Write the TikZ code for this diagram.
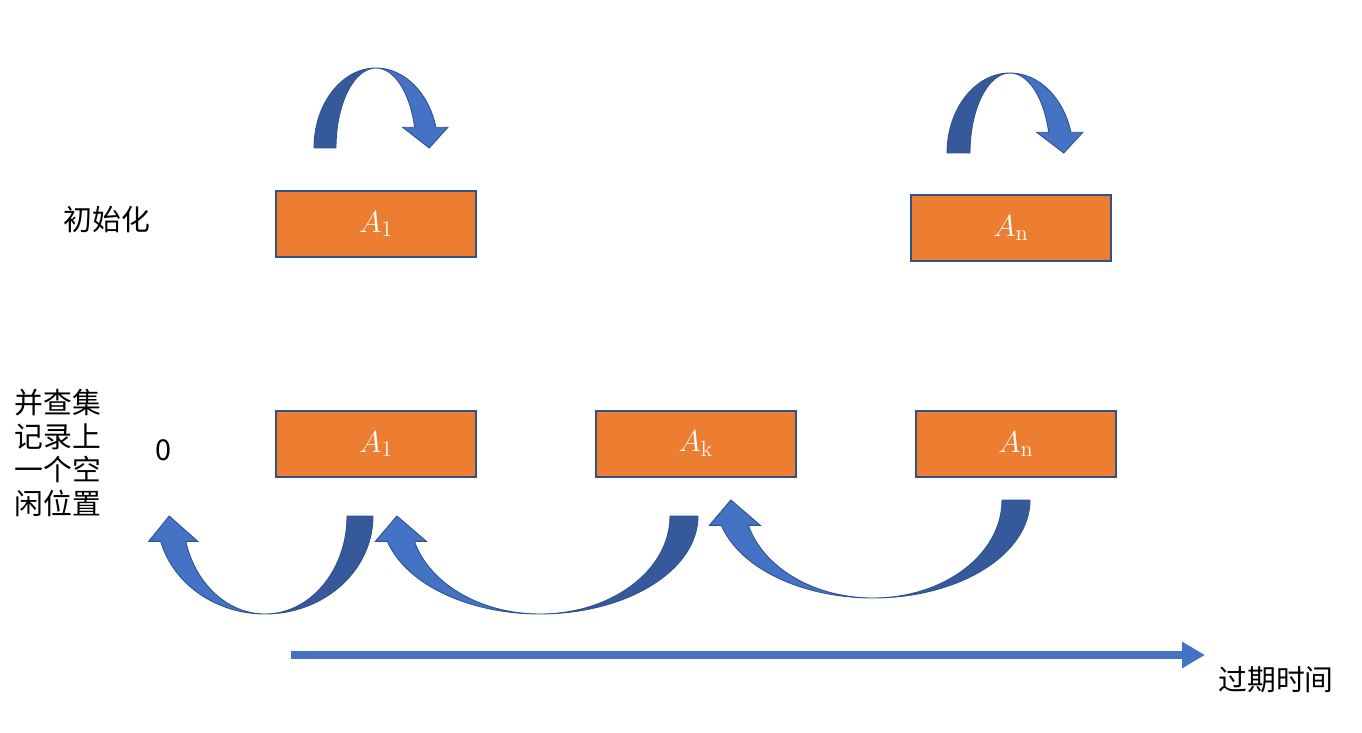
\documentclass[tikz,border=0pt]{standalone}
\usepackage{amsmath,amssymb}
\usepackage{fontspec}
\newfontfamily\cjk{Noto Sans CJK SC}
\usepackage{tikz}
\usetikzlibrary{calc,arrows.meta,positioning}

% bent block arrow: #1 centre, #2 rotation, #3 outer radius, #4 inner radius, #5 height
\newcommand{\bentarrow}[5]{%
  \begin{scope}[shift={#1}, rotate=#2]
    % back face
    \filldraw[fill=arrowdark, draw=arrowline, line width=0.5pt]
      (-#3,0) arc[start angle=180, end angle=270, x radius=#3, y radius=#5]
      arc[start angle=270, end angle=180, x radius=#4, y radius=#5] -- cycle;
    % front face with head
    \filldraw[fill=arrowlight, draw=arrowline, line width=0.5pt]
      (0,-#5) arc[start angle=270, end angle=345, x radius=#3, y radius=#5]
      -- ++(12,0)
      -- ({(#3+#4)/2*cos(15)+4}, 0)
      -- ({#4*cos(15)-12}, {-#5*sin(15)})
      -- ({#4*cos(15)}, {-#5*sin(15)})
      arc[start angle=345, end angle=270, x radius=#4, y radius=#5] -- cycle;
  \end{scope}}

\begin{document}
\begin{tikzpicture}[x=0.02cm, y=-0.02cm,
    every node/.style={font=\fontsize{16.4}{19}\selectfont},
    cell/.style={rectangle, fill=boxorange, draw=boxline, line width=0.9pt,
      minimum width=4cm, minimum height=1.32cm, inner sep=0pt, text=white,
      font=\fontsize{18}{21}\selectfont},
    side/.style={font=\cjk\fontsize{16.4}{19.1}\selectfont},
    timeline/.style={draw=arrowlight, line width=4.2pt,
      -{Triangle[length=0.46cm, width=0.5cm]}}]
    \definecolor{boxorange}{HTML}{ED7D31}
    \definecolor{boxline}{HTML}{2F528F}
    \definecolor{arrowlight}{HTML}{4472C4}
    \definecolor{arrowdark}{HTML}{35599A}
    \definecolor{arrowline}{HTML}{2F528F}

    \useasboundingbox (0,0) rectangle (1362,733);

    % =================== initialisation row ===================
    \node[side] (initlbl) at (107,220) {初始化};
    \node[cell] (inita) at (376,224) {$A_{\mathrm{1}}$};
    \node[cell] (initn) at (1011,228) {$A_{\mathrm{n}}$};

    % self loops above the boxes
    \bentarrow{(376,148)}{0}{62}{40}{80}
    \bentarrow{(1010,153)}{0}{63}{40}{80}

    % =================== union-find row ===================
    \node[side, align=left] (uflbl) at (58,453)
      {并查集\\记录上\\一个空\\闲位置};
    \node[side] (zero) at (163,450) {0};
    \node[cell] (ufa) at (376,444) {$A_{\mathrm{1}}$};
    \node[cell] (ufk) at (696,444) {$A_{\mathrm{k}}$};
    \node[cell] (ufn) at (1016,444) {$A_{\mathrm{n}}$};

    % links back to the previous free slot
    \bentarrow{(265,516)}{180}{108}{82}{98}
    \bentarrow{(540,516)}{180}{158}{130}{98}
    \bentarrow{(873,500)}{180}{157}{129}{98}

    % =================== time axis ===================
    \coordinate (tstart) at (291,655);
    \coordinate (tend) at (1205,655);
    \draw[timeline] (tstart) -- (tend);
    \node[side] (expiry) at (1276,680) {过期时间};
\end{tikzpicture}
\end{document}
